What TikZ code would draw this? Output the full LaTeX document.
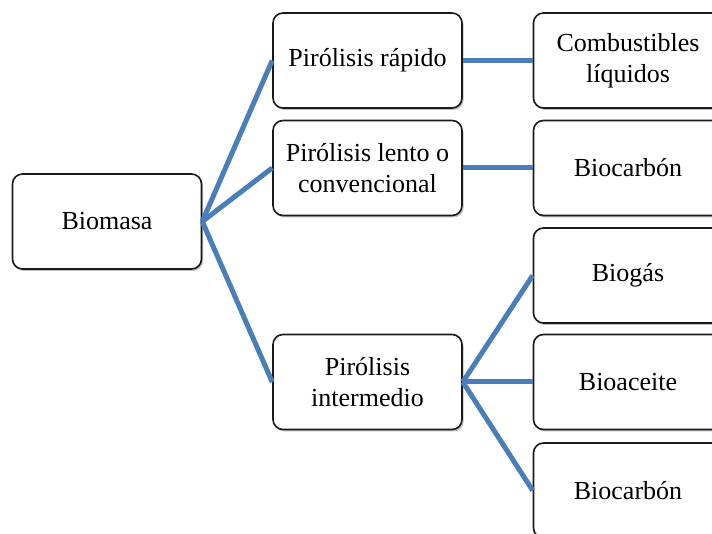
\documentclass[tikz,border=0pt]{standalone}
\usepackage{fontspec}
\setmainfont{Liberation Serif}
\usetikzlibrary{shadows}
\definecolor{pirBlue}{HTML}{4A7EBB}
\definecolor{pirInk}{HTML}{1A1A1A}

\begin{document}
\begin{tikzpicture}[
      x=1pt, y=1pt,
      caja/.style={rounded corners=10pt, minimum width=189pt, minimum height=95pt,
                   inner sep=2pt, align=center, draw=pirInk, line width=1.6pt,
                   fill=white, text=black, font=\fontsize{26}{31}\selectfont,
                   drop shadow={shadow xshift=1.5pt, shadow yshift=-2pt,
                                opacity=0.25, fill=black}},
      rama/.style={pirBlue, line width=5pt},
    ]

    \clip (0,0) rectangle (712,533);

    % ---------- entrada ----------
    \node[caja] (bio) at (107,311.5) {Biomasa};

    % ---------- procesos ----------
    \node[caja] (rap) at (367.5,472.5) {Pirólisis rápido};
    \node[caja] (len) at (367.5,365)   {Pirólisis lento o\\convencional};
    \node[caja] (int) at (367.5,151)   {Pirólisis\\intermedio};

    % ---------- productos ----------
    \node[caja] (liq)  at (628,472.5) {Combustibles\\líquidos};
    \node[caja] (car1) at (628,365)   {Biocarbón};
    \node[caja] (gas)  at (628,257.5) {Biogás};
    \node[caja] (ace)  at (628,151)   {Bioaceite};
    \node[caja] (car2) at (628,42.5)  {Biocarbón};

    % ---------- ramas ----------
    \foreach \n in {rap,len,int}
      \draw[rama] (bio.east) -- (\n.west);
    \draw[rama] (rap.east) -- (liq.west);
    \draw[rama] (len.east) -- (car1.west);
    \foreach \n in {gas,ace,car2}
      \draw[rama] (int.east) -- (\n.west);

  \end{tikzpicture}
\end{document}
